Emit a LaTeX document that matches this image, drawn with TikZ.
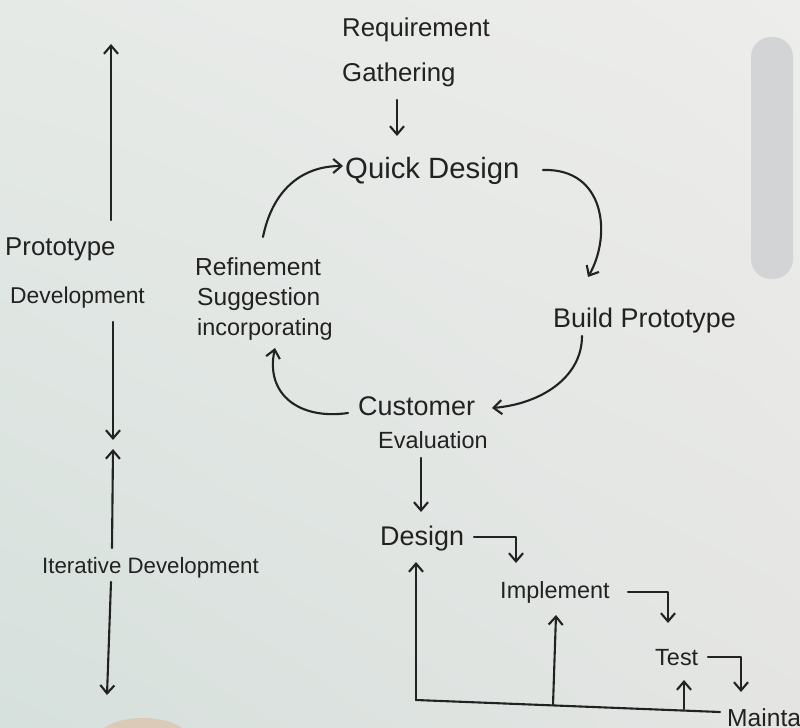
\documentclass[tikz,border=0pt]{standalone}
\usepackage{fontspec}
\setmainfont{Liberation Sans}
\usetikzlibrary{arrows.meta,shadings}
\definecolor{inkc}{HTML}{222222}
\definecolor{bgtr}{HTML}{EDEDEB}
\definecolor{bgtl}{HTML}{E6EAE7}
\definecolor{bgbl}{HTML}{D6E0DC}
\definecolor{bgbr}{HTML}{E4E5E3}
\definecolor{barc}{HTML}{D2D4D6}
\definecolor{skin}{HTML}{DCCAB8}
\newcommand\myfs[1]{\fontsize{#1}{#1}\selectfont}
\begin{document}
\begin{tikzpicture}[x=0.3mm,y=-0.3mm,
  ink/.style={draw=inkc, line width=1.8pt, line cap=round, line join=round},
  arr/.style={ink, -{Straight Barb[length=7pt,width=12pt,line width=1.8pt]}},
  lbl/.style={inner sep=0pt, anchor=base west, text=inkc}]
% background
\useasboundingbox (0,0) rectangle (800,728);
\shade[upper left=bgtl, upper right=bgtr, lower left=bgbl, lower right=bgbr] (0,0) rectangle (800,728);
\fill[barc, rounded corners=20*0.3mm] (751,37) rectangle (793,279);
\fill[skin] (143,737) ellipse [x radius=44, y radius=19];
% texts
\node[lbl,font=\myfs{22}] (req1) at (342,37) {Requirement};
\node[lbl,font=\myfs{22}] (req2) at (342,82) {Gathering};
\node[lbl,font=\myfs{25}] (quick) at (345,178) {Quick Design};
\node[lbl,font=\myfs{23}] (build) at (553,327) {Build Prototype};
\node[lbl,font=\myfs{23}] (cust1) at (358,415) {Customer};
\node[lbl,font=\myfs{20}] (cust2) at (378,448) {Evaluation};
\node[lbl,font=\myfs{21}] (ref1) at (195,275) {Refinement};
\node[lbl,font=\myfs{21}] (ref2) at (197,305) {Suggestion};
\node[lbl,font=\myfs{20}] (ref3) at (197,335) {incorporating};
\node[lbl,font=\myfs{22}] (proto1) at (5,255) {Prototype};
\node[lbl,font=\myfs{19.5}] (proto2) at (10,303) {Development};
\node[lbl,font=\myfs{19}] (iter) at (42,573) {Iterative Development};
\node[lbl,font=\myfs{23}] (des) at (380,545) {Design};
\node[lbl,font=\myfs{20}] (impl) at (500,598) {Implement};
\node[lbl,font=\myfs{20}] (test) at (655,665) {Test};
\node[lbl,font=\myfs{21}] (maint) at (727,726) {Maintainance};
% coordinates
\coordinate (gq1) at (397,100);  \coordinate (gq2) at (397,136);
\coordinate (rq1) at (263,237);  \coordinate (rq2) at (343,166);
\coordinate (qb1) at (543,170);  \coordinate (qb2) at (588,277);
\coordinate (bc1) at (582,336);  \coordinate (bc2) at (492,408);
\coordinate (cr1) at (348,413);  \coordinate (cr2) at (275,348);
\coordinate (ed1) at (421,458);  \coordinate (ed2) at (421,512);
\coordinate (di1) at (474,537);  \coordinate (di2) at (516,537); \coordinate (di3) at (516,563);
\coordinate (it1) at (628,592);  \coordinate (it2) at (668,592); \coordinate (it3) at (668,623);
\coordinate (tm1) at (708,657);  \coordinate (tm2) at (741,657); \coordinate (tm3) at (741,692);
\coordinate (b0) at (416,700);   \coordinate (b1) at (553,705);  \coordinate (b2) at (684,709);
\coordinate (b3) at (720,712);
\coordinate (dup) at (416,562);  \coordinate (iup) at (556,615); \coordinate (tup) at (684,680);
\coordinate (pu1) at (111,220);  \coordinate (pu2) at (111,44);
\coordinate (pd1) at (113,322);  \coordinate (pd2) at (113,440);
\coordinate (iu1) at (112,548);  \coordinate (iu2) at (113,449);
\coordinate (id1) at (111,582);  \coordinate (id2) at (107,695);
% connectors
\draw[arr] (gq1) -- (gq2);
\draw[arr] (rq1) .. controls (272,192) and (300,166) .. (rq2);
\draw[arr] (qb1) .. controls (605,168) and (612,235) .. (qb2);
\draw[arr] (bc1) .. controls (582,378) and (540,404) .. (bc2);
\draw[arr] (cr1) .. controls (300,420) and (265,395) .. (cr2);
\draw[arr] (ed1) -- (ed2);
\draw[arr] (di1) -- (di2) -- (di3);
\draw[arr] (it1) -- (it2) -- (it3);
\draw[arr] (tm1) -- (tm2) -- (tm3);
\draw[ink] (b0) -- (b3);
\draw[arr] (b0) -- (dup);
\draw[arr] (b1) -- (iup);
\draw[arr] (b2) -- (tup);
\draw[arr] (pu1) -- (pu2);
\draw[arr] (pd1) -- (pd2);
\draw[arr] (iu1) -- (iu2);
\draw[arr] (id1) -- (id2);
\end{tikzpicture}
\end{document}
